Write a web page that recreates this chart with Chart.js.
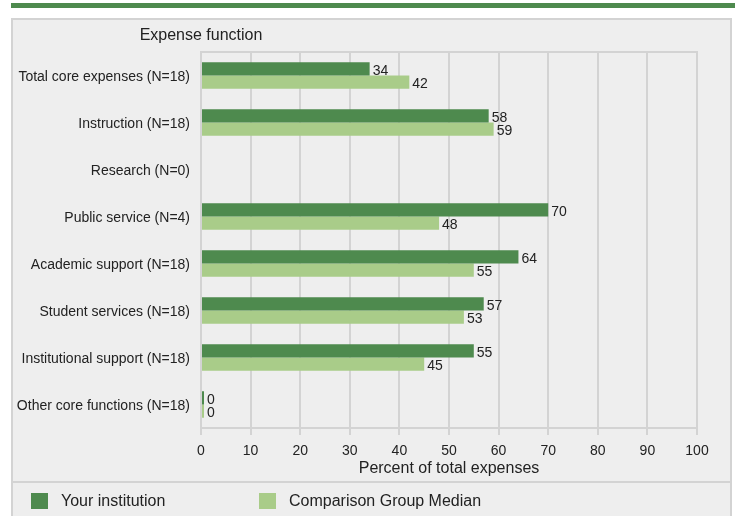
<!DOCTYPE html>
<html>
<head>
<meta charset="utf-8">
<script src="https://cdn.jsdelivr.net/npm/chart.js@4/dist/chart.umd.min.js"></script>
<style>
  body { margin: 0; width: 737px; height: 516px; overflow: hidden; background: #fff;
         font-family: "Liberation Sans", Arial, sans-serif; }
  #topbar { position: absolute; left: 11px; top: 3px; width: 724px; height: 5px; background: #4e8a4e; }
  #box { position: absolute; left: 11px; top: 18px; width: 717px; height: 520px;
         border: 2px solid #d3d3d3; background: #eeeeee; }
  #sep { position: absolute; left: 13px; top: 481px; width: 717px; height: 2px; background: #d3d3d3; }
  #chart { position: absolute; left: 0; top: 0; }
  .lg { position: absolute; top: 493px; height: 16px; font-size: 16px; color: #222; line-height: 16px; white-space: nowrap; }
  .lg i { position: absolute; left: 0; top: 0; width: 17px; height: 16px; }
  .lg span { position: absolute; left: 30px; top: 0; }
</style>
</head>
<body>
<div id="topbar"></div>
<div id="box"></div>
<div id="sep"></div>
<canvas id="chart" width="737" height="516"></canvas>
<div id="legend"></div>
<script>
// ── Dati ──────────────────────────────────────────────────────────────────
const categories = [
  'Total core expenses (N=18)',
  'Instruction (N=18)',
  'Research (N=0)',
  'Public service (N=4)',
  'Academic support (N=18)',
  'Student services (N=18)',
  'Institutional support (N=18)',
  'Other core functions (N=18)',
];
const yourInstitution = [34, 58, null, 70, 64, 57, 55, 0];
const comparisonMedian = [42, 59, null, 48, 55, 53, 45, 0];
const seriesNames = ['Your institution', 'Comparison Group Median'];
const xTicks = [0, 10, 20, 30, 40, 50, 60, 70, 80, 90, 100];

const DARK = '#4e8a4e';
const LIGHT = '#a9cc89';
const GRID = '#d3d3d3';
const TEXT = '#222';
const FONT = '"Liberation Sans", Arial, sans-serif';

// Etichette valori a destra delle barre
const valueLabels = {
  id: 'valueLabels',
  afterDatasetsDraw(chart) {
    const { ctx } = chart;
    ctx.save();
    ctx.font = `14px ${FONT}`;
    ctx.fillStyle = TEXT;
    ctx.textAlign = 'left';
    ctx.textBaseline = 'middle';
    chart.data.datasets.forEach((ds, di) => {
      chart.getDatasetMeta(di).data.forEach((bar, i) => {
        const v = ds.data[i];
        if (v === null || v === undefined) return;
        ctx.fillText(String(v), bar.x + 3, bar.y + 2);
      });
    });
    ctx.restore();
  },
};

// Linea superiore del riquadro + titolo dell'asse categorie
const frame = {
  id: 'frame',
  beforeDatasetsDraw(chart) {
    const { ctx, chartArea: a } = chart;
    ctx.save();
    ctx.strokeStyle = GRID;
    ctx.lineWidth = 2;
    ctx.beginPath();
    ctx.moveTo(a.left - 1, a.top);
    ctx.lineTo(a.right + 1, a.top);
    ctx.stroke();
    ctx.font = `16px ${FONT}`;
    ctx.fillStyle = TEXT;
    ctx.textAlign = 'center';
    ctx.textBaseline = 'middle';
    ctx.fillText('Expense function', a.left, 36);
    ctx.restore();
  },
};

const chart = new Chart(document.getElementById('chart'), {
  type: 'bar',
  data: {
    labels: categories,
    datasets: [
      { label: seriesNames[0], data: yourInstitution, backgroundColor: DARK },
      { label: seriesNames[1], data: comparisonMedian, backgroundColor: LIGHT },
    ].map(d => ({ ...d, categoryPercentage: 0.56, barPercentage: 1, minBarLength: 3, borderWidth: 0 })),
  },
  options: {
    indexAxis: 'y',
    responsive: false,
    devicePixelRatio: 1,
    animation: false,
    layout: { padding: { top: 52, right: 40, bottom: 34, left: 0 } },
    plugins: { legend: { display: false }, tooltip: { enabled: false } },
    scales: {
      x: {
        min: 0, max: 100,
        afterFit: s => { s.height = 54; },
        afterBuildTicks: s => { s.ticks = xTicks.map(v => ({ value: v })); },
        grid: { color: GRID, lineWidth: 2, tickLength: 7 },
        border: { color: GRID, width: 2 },
        ticks: { color: TEXT, font: { size: 14, family: FONT }, padding: 8, maxRotation: 0 },
        title: {
          display: true, text: 'Percent of total expenses', color: TEXT,
          font: { size: 16, family: FONT }, padding: { top: 0, bottom: 4 },
        },
      },
      y: {
        afterFit: s => { s.width = 201; },
        grid: { display: false, drawTicks: false },
        border: { display: false },
        ticks: { color: TEXT, font: { size: 14, family: FONT }, padding: 11, labelOffset: 2 },
      },
    },
  },
  plugins: [frame, valueLabels],
});

// Legenda HTML
const legendX = [31, 259];
document.getElementById('legend').innerHTML = chart.data.datasets.map((ds, i) =>
  `<div class="lg" style="left:${legendX[i]}px"><i style="background:${ds.backgroundColor}"></i><span>${ds.label}</span></div>`
).join('');
</script>
</body>
</html>
